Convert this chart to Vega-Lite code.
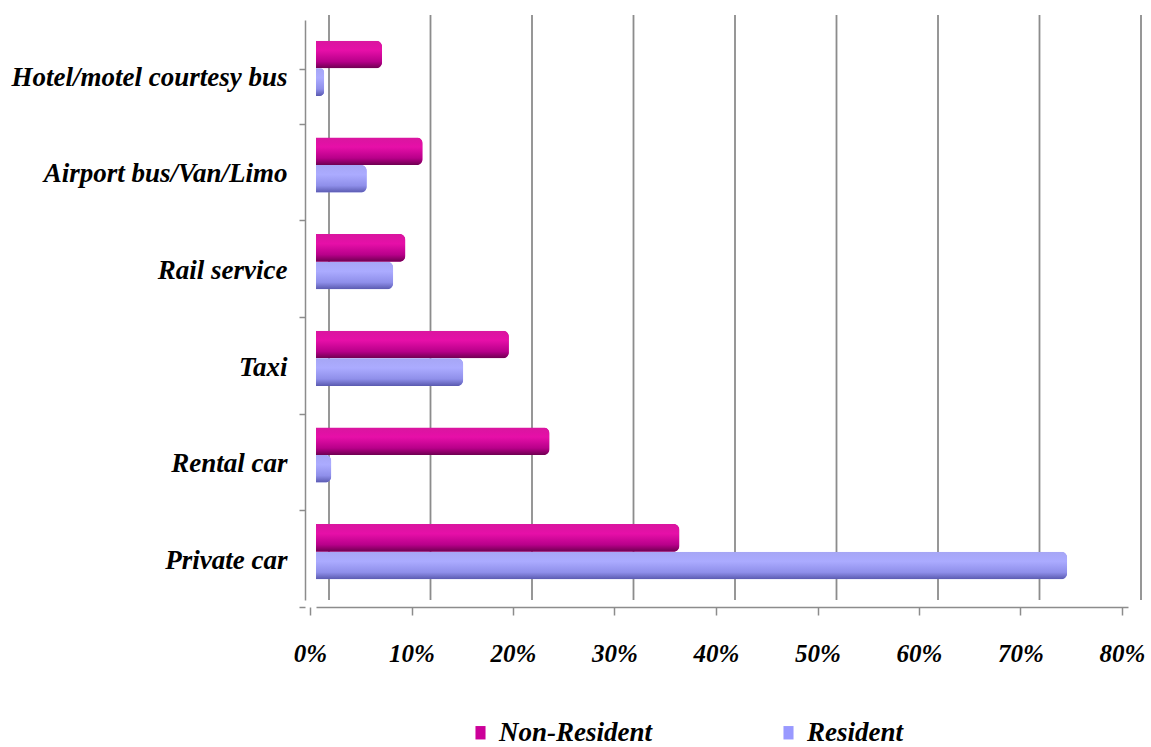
{
  "$schema": "https://vega.github.io/schema/vega-lite/v6.json",
  "autosize": "none",
  "width": 812,
  "height": 580,
  "padding": {"left": 316, "top": 20, "right": 23, "bottom": 147},
  "background": "white",
  "config": {
    "view": {"stroke": null},
    "font": "Liberation Serif"
  },
  "datasets": {
    "shares": [
      {"mode": "Hotel/motel courtesy bus", "series": "Non-Resident", "share": 0.065},
      {"mode": "Hotel/motel courtesy bus", "series": "Resident", "share": 0.008},
      {"mode": "Airport bus/Van/Limo", "series": "Non-Resident", "share": 0.105},
      {"mode": "Airport bus/Van/Limo", "series": "Resident", "share": 0.05},
      {"mode": "Rail service", "series": "Non-Resident", "share": 0.088},
      {"mode": "Rail service", "series": "Resident", "share": 0.076},
      {"mode": "Taxi", "series": "Non-Resident", "share": 0.19},
      {"mode": "Taxi", "series": "Resident", "share": 0.145},
      {"mode": "Rental car", "series": "Non-Resident", "share": 0.23},
      {"mode": "Rental car", "series": "Resident", "share": 0.015},
      {"mode": "Private car", "series": "Non-Resident", "share": 0.358},
      {"mode": "Private car", "series": "Resident", "share": 0.74}
    ],
    "grid": [
      {"v": 0}, {"v": 0.1}, {"v": 0.2}, {"v": 0.3}, {"v": 0.4}, {"v": 0.5}, {"v": 0.6}, {"v": 0.7}, {"v": 0.8}
    ]
  },
  "layer": [
    {
      "data": {"name": "grid"},
      "mark": {"type": "rule", "color": "#8c8c8c", "strokeWidth": 1.8, "xOffset": 13, "yOffset": -5},
      "encoding": {
        "x": {
          "field": "v", "type": "quantitative", "scale": {"domain": [0, 0.8]},
          "axis": {
            "title": null, "format": ".0%", "values": [0, 0.1, 0.2, 0.3, 0.4, 0.5, 0.6, 0.7, 0.8],
            "grid": false, "labelFlush": false,
            "domain": true, "domainColor": "#8c8c8c", "domainWidth": 1.5,
            "ticks": true, "tickColor": "#8c8c8c", "tickSize": 8, "tickWidth": 1.5,
            "offset": 7, "tickOffset": -6,
            "labelFont": "Liberation Serif", "labelFontSize": 25, "labelFontWeight": "bold", "labelFontStyle": "italic",
            "labelColor": "#000000", "labelPadding": 26
          }
        }
      }
    },
    {
      "data": {"name": "shares"},
      "encoding": {
        "y": {
          "field": "mode", "type": "nominal",
          "sort": ["Hotel/motel courtesy bus", "Airport bus/Van/Limo", "Rail service", "Taxi", "Rental car", "Private car"],
          "scale": {"paddingInner": 0.43, "paddingOuter": 0.215},
          "axis": {
            "title": null,
            "domain": true, "domainColor": "#8c8c8c", "domainWidth": 1.5,
            "ticks": true, "tickColor": "#8c8c8c", "tickSize": 6, "tickWidth": 1.5,
            "bandPosition": 1, "tickOffset": 27.8, "tickExtra": true, "labelOffset": -19,
            "offset": 11,
            "labelFont": "Liberation Serif", "labelFontSize": 27, "labelFontWeight": "bold", "labelFontStyle": "italic",
            "labelColor": "#000000", "labelPadding": 12, "labelLimit": 320
          }
        },
        "yOffset": {"field": "series", "type": "nominal", "sort": ["Non-Resident", "Resident"], "scale": {"paddingInner": 0}},
        "x": {
          "field": "share", "type": "quantitative",
          "scale": {"domain": [0, 0.8]},
          "axis": {
            "title": null, "format": ".0%", "values": [0, 0.1, 0.2, 0.3, 0.4, 0.5, 0.6, 0.7, 0.8],
            "grid": false, "labelFlush": false,
            "domain": true, "domainColor": "#8c8c8c", "domainWidth": 1.5,
            "ticks": true, "tickColor": "#8c8c8c", "tickSize": 8, "tickWidth": 1.5,
            "offset": 7, "tickOffset": -6,
            "labelFont": "Liberation Serif", "labelFontSize": 25, "labelFontWeight": "bold", "labelFontStyle": "italic",
            "labelColor": "#000000", "labelPadding": 26
          }
        }
      },
      "layer": [
        {
          "mark": {"type": "bar", "cornerRadiusEnd": 6},
          "encoding": {
            "color": {
              "field": "series", "type": "nominal",
              "scale": {"domain": ["Non-Resident", "Resident"], "range": ["#CC0099", "#9999FF"]},
              "legend": {
                "title": null, "orient": "none", "direction": "horizontal",
                "legendX": 151, "legendY": 699,
                "symbolType": "M-0.75,-1H0.75V1H-0.75Z", "symbolSize": 180, "symbolStrokeWidth": 0,
                "labelFont": "Liberation Serif", "labelFontSize": 27, "labelFontWeight": "bold", "labelFontStyle": "italic",
                "labelColor": "#000000", "labelOffset": 5, "columnPadding": 122, "labelLimit": 300
              }
            }
          }
        },
        {
          "transform": [{"filter": "datum.series === 'Non-Resident'"}],
          "mark": {
            "type": "bar", "cornerRadiusEnd": 6,
            "fill": {"gradient": "linear", "x1": 0, "y1": 0, "x2": 0, "y2": 1,
              "stops": [{"offset": 0, "color": "#D9159F"}, {"offset": 0.35, "color": "#E60FA8"}, {"offset": 0.75, "color": "#B8008A"}, {"offset": 1, "color": "#6E0050"}]}
          }
        },
        {
          "transform": [{"filter": "datum.series === 'Resident'"}],
          "mark": {
            "type": "bar", "cornerRadiusEnd": 6,
            "fill": {"gradient": "linear", "x1": 0, "y1": 0, "x2": 0, "y2": 1,
              "stops": [{"offset": 0, "color": "#A6A6F5"}, {"offset": 0.35, "color": "#ABABFF"}, {"offset": 0.75, "color": "#8F8FEA"}, {"offset": 1, "color": "#5A5AB0"}]}
          }
        }
      ]
    }
  ]
}
